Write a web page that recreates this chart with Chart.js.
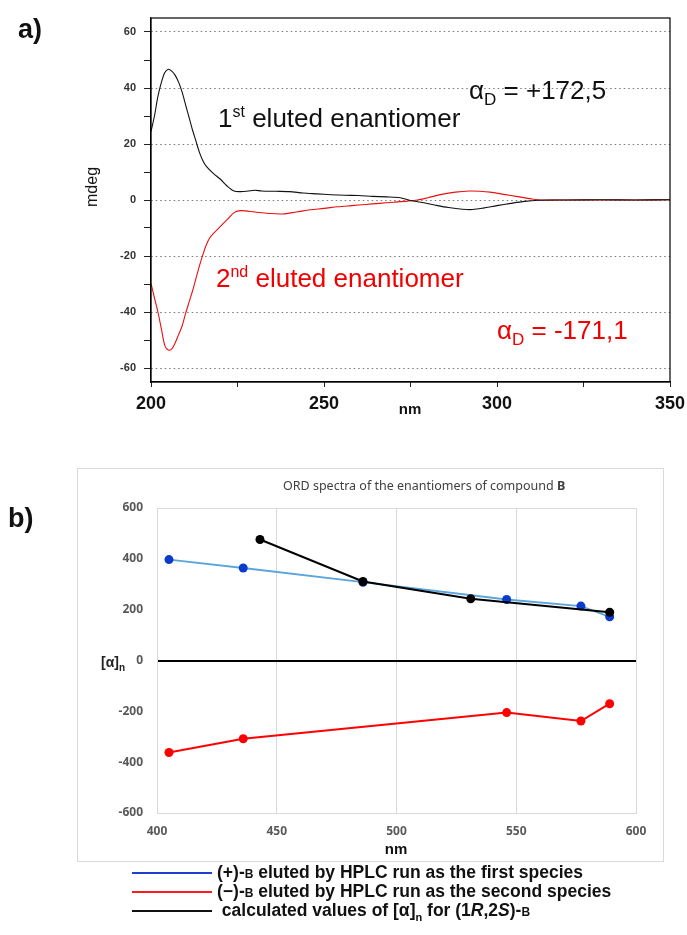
<!DOCTYPE html>
<html lang="en">
<head>
<meta charset="UTF-8" />
<title>CD and ORD spectra of compound B</title>
<script src="https://cdn.jsdelivr.net/npm/chart.js"></script>
<style>
  body {
    margin: 0;
    background: #fff;
    width: 687px;
    height: 935px;
    position: relative;
    overflow: hidden;
    font-family: 'Liberation Sans', Arial, sans-serif;
    color: #111;
  }
  .txt { position: absolute; white-space: nowrap; line-height: 1; }
  .big { font-size: 26px; }
  .red { color: #f00000; }
  .panel { font-weight: bold; font-size: 27px; }
  #cdBox { position: absolute; left: 0; top: 0; width: 687px; height: 420px; }
  #ordBox { position: absolute; left: 0; top: 440px; width: 687px; height: 430px; }
  #ordFrame {
    position: absolute; left: 77px; top: 468px; width: 585px; height: 392px;
    border: 1px solid #d9d9d9;
  }
  .ordTitle { font-family: 'Noto Sans', 'Open Sans', sans-serif; font-size: 12.5px; color: #404040; }
  .leg { position: absolute; left: 132px; width: 80px; height: 2px; }
  .legTxt { font-weight: bold; font-size: 17.5px; left: 217px; }
  .sc { font-size: 12px; }
  sub, sup { line-height: 0; }
</style>
</head>
<body>

<div id="ordFrame"></div>
<div id="cdBox"><canvas id="cdChart"></canvas></div>
<div id="ordBox"><canvas id="ordChart"></canvas></div>

<div class="txt panel" style="left:18px; top:16px;">a)</div>
<div class="txt panel" style="left:8px; top:505px;">b)</div>

<div class="txt" style="left:72px; top:187px; font-size:16px; transform: translate(0,-50%) rotate(-90deg); transform-origin: 50% 50%;">mdeg</div>
<div class="txt" style="left:410px; top:401px; font-size:15px; font-weight:bold; transform: translateX(-50%);">nm</div>

<div class="txt big" style="left:218px; top:105px;">1<sup style="font-size:16px;">st</sup> eluted enantiomer</div>
<div class="txt big" style="left:469px; top:77px;">α<sub style="font-size:17px;">D</sub> = +172,5</div>
<div class="txt big red" style="left:216px; top:265px;">2<sup style="font-size:16px;">nd</sup> eluted enantiomer</div>
<div class="txt big red" style="left:497px; top:317px;">α<sub style="font-size:17px;">D</sub> = -171,1</div>

<div class="txt ordTitle" style="left:283px; top:480px;">ORD spectra of the enantiomers of compound <b>B</b></div>
<div class="txt" style="left:101px; top:655px; font-size:14px; font-weight:bold; color:#222;">[α]<sub style="font-size:10px;">n</sub></div>
<div class="txt" style="left:396px; top:841px; font-size:15px; font-weight:bold; transform: translateX(-50%);">nm</div>

<div class="leg" style="top:872px; background:#1f3fd0;"></div>
<div class="leg" style="top:891px; background:#ff1a1a;"></div>
<div class="leg" style="top:910px; background:#111;"></div>
<div class="txt legTxt" style="top:864px;">(+)-<span class="sc">B</span> eluted by HPLC run as the first species</div>
<div class="txt legTxt" style="top:883px;">(−)-<span class="sc">B</span> eluted by HPLC run as the second species</div>
<div class="txt legTxt" style="top:902px;">&nbsp;calculated values of [α]<sub style="font-size:11px;">n</sub> for (1<i>R</i>,2<i>S</i>)-<span class="sc">B</span></div>

<script>
  // a) CD spectra (mdeg vs nm)
  const cdNm1 = [200, 201, 202, 203, 204, 205, 206, 207, 208, 209, 210, 211, 212, 213, 214, 215, 216, 218, 220, 222, 224, 226, 228, 230, 232, 236, 240, 244, 248, 252, 256, 260, 264, 268, 272, 275, 278, 282, 286, 290, 293, 296, 300, 304, 308, 312, 316, 320, 330, 340, 350];
  const cdMdeg1 = [24.5, 30, 37, 42, 45.5, 46.7, 46, 44.5, 42, 38.5, 34, 29.5, 25, 21, 17, 14, 12, 9.5, 7.5, 5, 3.2, 3, 3.2, 3.5, 3.2, 3.1, 3.0, 2.5, 2.2, 1.9, 1.7, 1.6, 1.3, 1.1, 0.8, -0.2, -0.8, -1.8, -2.7, -3.3, -3.4, -2.9, -2.0, -1.2, -0.5, -0.1, 0, 0, 0.1, 0, 0.1];

  const cdNm2 = [200, 201, 202, 203, 204, 205, 206, 207, 208, 209, 210, 211, 212, 213, 214, 215, 216, 217, 218, 220, 222, 224, 226, 230, 234, 238, 242, 246, 250, 254, 258, 262, 266, 270, 274, 277, 280, 284, 288, 292, 295, 298, 302, 306, 310, 313, 320, 330, 340, 350];
  const cdMdeg2 = [-29.8, -35, -40, -46, -52, -53.6, -53.2, -51, -48, -45, -40.5, -36.5, -32.5, -28, -23.5, -19.5, -16, -13.5, -12, -9.5, -7, -4.5, -3.8, -4.3, -4.8, -5.0, -4.3, -3.5, -3.0, -2.4, -2.0, -1.6, -1.2, -0.8, -0.4, 0, 0.8, 2.0, 2.8, 3.2, 3.1, 2.8, 2.0, 1.2, 0.4, 0, 0, 0, 0, 0.1];

  const cdTicksX = [200, 225, 250, 275, 300, 325, 350];
  const cdTicksY = [-60, -50, -40, -30, -20, -10, 0, 10, 20, 30, 40, 50, 60];

  // b) ORD spectra ([α]n vs nm)
  const plusNm = [405, 436, 486, 546, 577, 589];
  const plusAlpha = [397, 364, 308, 240, 214, 172];
  const minusNm = [405, 436, 546, 577, 589];
  const minusAlpha = [-362, -308, -205, -238, -170];
  const calcNm = [443, 486, 531, 589];
  const calcAlpha = [476, 311, 243, 190];
  const ordTicksX = [400, 450, 500, 550, 600];
  const ordTicksY = [-600, -400, -200, 0, 200, 400, 600];

  const toPts = (xs, ys) => xs.map((x, i) => ({ x: x, y: ys[i] }));

  const frameBox = {
    id: 'frameBox',
    afterDraw(chart) {
      const a = chart.chartArea;
      const ctx = chart.ctx;
      ctx.save();
      ctx.strokeStyle = '#000';
      ctx.lineWidth = 1.2;
      ctx.strokeRect(a.left, a.top, a.right - a.left, a.bottom - a.top);
      ctx.restore();
    }
  };

  const arial = "'Liberation Sans', Arial, sans-serif";
  const calibri = "'Noto Sans', 'Open Sans', sans-serif";

  new Chart(document.getElementById('cdChart'), {
    type: 'line',
    data: {
      datasets: [
        { data: toPts(cdNm1, cdMdeg1), borderColor: '#111', borderWidth: 1.1, pointRadius: 0, tension: 0.3 },
        { data: toPts(cdNm2, cdMdeg2), borderColor: '#e81010', borderWidth: 1.1, pointRadius: 0, tension: 0.3 }
      ]
    },
    options: {
      responsive: true,
      maintainAspectRatio: false,
      animation: false,
      layout: { autoPadding: false, padding: { top: 18, right: 17, left: 0, bottom: 0 } },
      plugins: { legend: { display: false }, tooltip: { enabled: false } },
      scales: {
        x: {
          type: 'linear', min: 200, max: 350,
          afterBuildTicks: s => { s.ticks = cdTicksX.map(v => ({ value: v })); },
          afterFit: s => { s.height = 38; s.paddingLeft = 0; s.paddingRight = 0; },
          grid: { drawOnChartArea: false, tickLength: 5, tickColor: '#222' },
          border: { color: '#000', width: 1.2 },
          ticks: {
            padding: 6, color: '#111', maxRotation: 0,
            font: { family: arial, size: 18, weight: 'bold' },
            callback: v => (v % 50 === 0 ? v : '')
          }
        },
        y: {
          min: -65, max: 65,
          afterBuildTicks: s => { s.ticks = cdTicksY.map(v => ({ value: v })); },
          afterFit: s => { s.width = 151; },
          grid: {
            color: c => (c.tick && c.tick.value % 20 === 0 ? '#7a7a7a' : 'rgba(0,0,0,0)'),
            tickColor: '#222', tickLength: 7
          },
          border: { color: '#000', width: 1.2, dash: [1.5, 3] },
          ticks: {
            padding: 8, color: '#333',
            font: { family: arial, size: 11, weight: 'bold' },
            callback: v => (v % 20 === 0 ? v : '')
          }
        }
      }
    },
    plugins: [frameBox]
  });

  new Chart(document.getElementById('ordChart'), {
    type: 'line',
    data: {
      datasets: [
        { data: toPts(calcNm, calcAlpha), borderColor: '#000', backgroundColor: '#000', borderWidth: 2, pointRadius: 4.5, pointBorderWidth: 0 },
        { data: toPts(plusNm, plusAlpha), borderColor: '#5aa5dc', backgroundColor: '#0a3ccc', borderWidth: 1.8, pointRadius: 4.5, pointBorderWidth: 0 },
        { data: toPts(minusNm, minusAlpha), borderColor: '#ff0000', backgroundColor: '#ff0000', borderWidth: 2, pointRadius: 4.5, pointBorderWidth: 0 }
      ]
    },
    options: {
      responsive: true,
      maintainAspectRatio: false,
      animation: false,
      layout: { autoPadding: false, padding: { top: 68, right: 51, left: 0, bottom: 0 } },
      plugins: { legend: { display: false }, tooltip: { enabled: false } },
      scales: {
        x: {
          type: 'linear', min: 400, max: 600,
          afterBuildTicks: s => { s.ticks = ordTicksX.map(v => ({ value: v })); },
          afterFit: s => { s.height = 57; s.paddingLeft = 0; s.paddingRight = 0; },
          grid: { color: '#d9d9d9', drawTicks: false },
          border: { color: '#d9d9d9', width: 1 },
          ticks: {
            padding: 11, color: '#595959', maxRotation: 0,
            font: { family: calibri, size: 12, weight: 'bold' }
          }
        },
        y: {
          min: -600, max: 600,
          afterBuildTicks: s => { s.ticks = ordTicksY.map(v => ({ value: v })); },
          afterFit: s => { s.width = 157; },
          grid: {
            color: c => {
              if (!c.tick) return 'rgba(0,0,0,0)';
              if (c.tick.value === 0) return '#000';
              if (Math.abs(c.tick.value) === 600) return '#d9d9d9';
              return 'rgba(0,0,0,0)';
            },
            lineWidth: c => (c.tick && c.tick.value === 0 ? 2 : 1),
            drawTicks: false
          },
          border: { color: '#d9d9d9', width: 1 },
          ticks: {
            padding: 14, color: '#595959',
            font: { family: calibri, size: 12, weight: 'bold' }
          }
        }
      }
    }
  });
</script>

</body>
</html>
